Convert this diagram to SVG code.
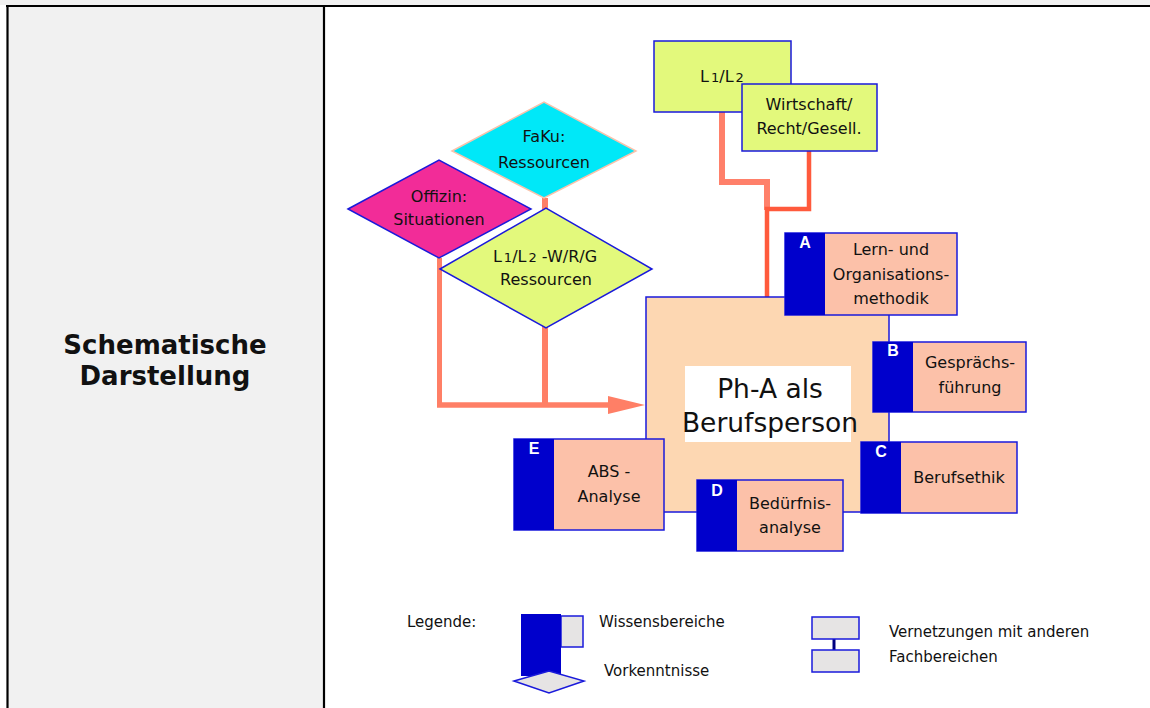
<svg xmlns="http://www.w3.org/2000/svg" width="1150" height="708" viewBox="0 0 1150 708">
<defs>
<style>
.t{font-family:"DejaVu Sans","Liberation Sans",sans-serif;font-size:16px;fill:#111;text-anchor:middle}
.big{font-size:26.5px}
.lg{font-family:"DejaVu Sans","Liberation Sans",sans-serif;font-size:15px;fill:#111}
.ltr{font-family:"Liberation Sans","DejaVu Sans",sans-serif;font-size:16px;font-weight:bold;fill:#fff;text-anchor:middle}
.sal{fill:#FCC1A9;stroke:#1a1adb;stroke-width:1.5}
.bar{fill:#0000CC}
.yg{fill:#E3F97C;stroke:#1a1adb;stroke-width:1.5}
.gr{fill:#E6E4E4;stroke:#1a1adb;stroke-width:1.5}
.sm{font-size:13px}
.ttl{font-family:"DejaVu Sans",Verdana,sans-serif;font-weight:bold;font-size:26px;text-anchor:middle;fill:#111}
</style>
</defs>
<rect x="0" y="0" width="1150" height="708" fill="#fff"/>
<rect x="0" y="0" width="1150" height="5" fill="#F1F1F1"/>
<rect x="7" y="5" width="317" height="703" fill="#F1F1F1"/>
<g id="frame" stroke="#000" stroke-width="2.2" fill="none">
<line x1="6" y1="6" x2="1150" y2="6"/>
<line x1="7.5" y1="5" x2="7.5" y2="708"/>
<line x1="324" y1="6" x2="324" y2="708"/>
</g>
<text x="165" y="354" class="ttl">Schematische</text>
<text x="165" y="385" class="ttl">Darstellung</text>

<g id="connectors" fill="none" stroke-linejoin="miter">
<polyline points="722,112 722,182 767,182 767,210" stroke="#FF806A" stroke-width="6"/>
<polyline points="809,151 809,209 767,209 767,297" stroke="#FF5A3C" stroke-width="4.5"/>
<line x1="545" y1="198" x2="545" y2="405" stroke="#FF7F66" stroke-width="6"/>
<line x1="439.5" y1="258" x2="439.5" y2="405" stroke="#FF7F66" stroke-width="5"/>
<line x1="437" y1="405" x2="612" y2="405" stroke="#FF7F66" stroke-width="5.5"/>
<polygon points="608,396 645,405 608,414" fill="#FF7F66"/>
</g>

<g id="main">
<rect x="646" y="297" width="243" height="215" fill="#FDD7B2" stroke="#1a1adb" stroke-width="1.5"/>
<rect x="685" y="366" width="166" height="76" fill="#fff"/>
<text x="770" y="398" class="t big">Ph-A als</text>
<text x="770" y="432" class="t big">Berufsperson</text>
</g>

<g id="nodeL12">
<rect x="654" y="41" width="137" height="71" class="yg"/>
<text x="722" y="82" class="t">L<tspan class="sm" dx="2">1</tspan>/L<tspan class="sm" dx="2">2</tspan></text>
</g>
<g id="nodeWRG">
<rect x="742" y="84" width="135" height="67" class="yg"/>
<text x="809" y="110" class="t">Wirtschaft/</text>
<text x="809" y="134" class="t">Recht/Gesell.</text>
</g>

<g id="nodeFaKu">
<polygon points="452,151 544,102 636,151 544,198" fill="#00E8F8" stroke="#F9C3AC" stroke-width="1.5"/>
<text x="544" y="142" class="t">FaKu:</text>
<text x="544" y="168" class="t">Ressourcen</text>
</g>
<g id="nodeOffizin">
<polygon points="348,209 439,160 531,209 439,258" fill="#F22C98" stroke="#1a1adb" stroke-width="1.5"/>
<text x="439" y="202" class="t">Offizin:</text>
<text x="439" y="225" class="t">Situationen</text>
</g>
<g id="nodeL12WRG">
<polygon points="440,269 546,208 652,269 546,328" class="yg"/>
<text x="545" y="262" class="t">L<tspan class="sm" dx="2">1</tspan>/L<tspan class="sm" dx="2">2</tspan> -W/R/G</text>
<text x="546" y="285" class="t">Ressourcen</text>
</g>

<g id="nodeA">
<rect x="785" y="233" width="172" height="82" class="sal"/>
<rect x="785" y="233" width="40" height="82" class="bar"/>
<text x="805" y="248" class="ltr">A</text>
<text x="891" y="255" class="t">Lern- und</text>
<text x="891" y="280" class="t">Organisations-</text>
<text x="891" y="304" class="t">methodik</text>
</g>
<g id="nodeB">
<rect x="873" y="342" width="153" height="70" class="sal"/>
<rect x="873" y="342" width="40" height="70" class="bar"/>
<text x="893" y="356" class="ltr">B</text>
<text x="970" y="368" class="t">Gesprächs-</text>
<text x="970" y="393" class="t">führung</text>
</g>
<g id="nodeC">
<rect x="861" y="442" width="156" height="71" class="sal"/>
<rect x="861" y="442" width="40" height="71" class="bar"/>
<text x="881" y="457" class="ltr">C</text>
<text x="959" y="483" class="t">Berufsethik</text>
</g>
<g id="nodeD">
<rect x="697" y="480" width="146" height="71" class="sal"/>
<rect x="697" y="480" width="40" height="71" class="bar"/>
<text x="717" y="496" class="ltr">D</text>
<text x="790" y="509" class="t">Bedürfnis-</text>
<text x="790" y="533" class="t">analyse</text>
</g>
<g id="nodeE">
<rect x="514" y="439" width="150" height="91" class="sal"/>
<rect x="514" y="439" width="40" height="91" class="bar"/>
<text x="534" y="454" class="ltr">E</text>
<text x="609" y="477" class="t">ABS -</text>
<text x="609" y="502" class="t">Analyse</text>
</g>

<g id="legend">
<text x="407" y="627" class="lg">Legende:</text>
<rect x="561" y="616" width="22" height="31" class="gr"/>
<rect x="521" y="614" width="40" height="62" class="bar"/>
<polygon points="514,681 549,671 584,681 549,693" class="gr"/>
<text x="599" y="627" class="lg">Wissensbereiche</text>
<text x="604" y="676" class="lg">Vorkenntnisse</text>
<line x1="834" y1="639" x2="834" y2="650" stroke="#000080" stroke-width="3"/>
<rect x="812" y="617" width="47" height="22" class="gr"/>
<rect x="812" y="650" width="47" height="22" class="gr"/>
<text x="889" y="637" class="lg">Vernetzungen mit anderen</text>
<text x="889" y="662" class="lg">Fachbereichen</text>
</g>
</svg>
